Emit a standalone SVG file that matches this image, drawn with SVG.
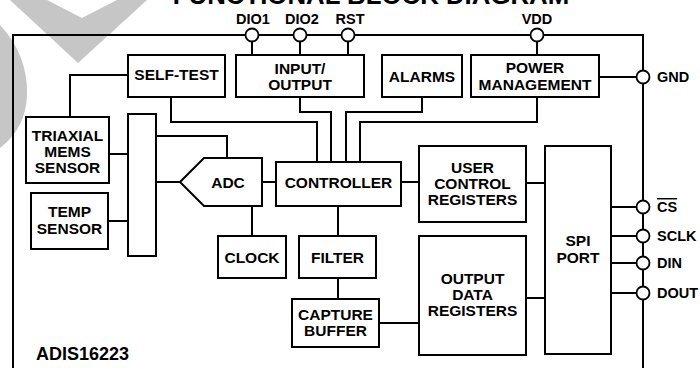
<svg xmlns="http://www.w3.org/2000/svg" width="700" height="368" viewBox="0 0 700 368">
<style>
.b{fill:#fff;stroke:#000;stroke-width:2}
.w{fill:none;stroke:#000;stroke-width:2}
.p{fill:#fff;stroke:#000;stroke-width:1.8}
text{font-family:"Liberation Sans",Arial,sans-serif;font-weight:bold;fill:#000}
.l{font-size:15.5px;text-anchor:middle}
.pin{font-size:14.5px}
.wm{fill:#c6c6c6}
</style>
<g id="watermark">
<polygon class="wm" points="10,0 47,0 82,18 117,0 147,0 78,63"/>
<path class="wm" d="M0,25 Q28,55 27,95 Q26,128 0,148 Z"/>
</g>
<text x="371" y="4" style="font-size:25.8px;text-anchor:middle">FUNCTIONAL BLOCK DIAGRAM</text>
<g id="connectors">
<path class="w" d="M13,368 V35 H643 V368"/>
<path class="w" d="M252,35 V55 M300,35 V55 M348,35 V55 M537,35 V55"/>
<path class="w" d="M599,77 H643"/>
<path class="w" d="M128,75 H70 V117"/>
<path class="w" d="M109,154 H128 M108,221 H128"/>
<path class="w" d="M156,182 H180 M156,136 H227 V158"/>
<path class="w" d="M262,182 H276 M252,206 V236"/>
<path class="w" d="M171,97 V122 H317 V162"/>
<path class="w" d="M300,97 V112 H331 V162"/>
<path class="w" d="M422,97 V112 H346 V162"/>
<path class="w" d="M537,97 V122 H360 V162"/>
<path class="w" d="M401,182 H419 M338,206 V236 M338,278 V299 M379,323 H419"/>
<path class="w" d="M526,183 H545 M526,298 H545"/>
<path class="w" d="M611,207 H643 M611,236 H643 M611,263 H643 M611,293 H643"/>
</g>
<g id="self-test"><rect class="b" x="128" y="55" width="97" height="42"/><text class="l" x="176.5" y="80">SELF-TEST</text></g>
<g id="input-output"><rect class="b" x="236" y="55" width="128" height="42"/><text class="l" x="300" y="74">INPUT/</text><text class="l" x="300" y="90">OUTPUT</text></g>
<g id="alarms"><rect class="b" x="382" y="55" width="80" height="42"/><text class="l" x="422" y="81.5">ALARMS</text></g>
<g id="power-management"><rect class="b" x="471" y="55" width="128" height="42"/><text class="l" x="535" y="73">POWER</text><text class="l" x="535" y="89.5">MANAGEMENT</text></g>
<g id="triaxial-mems-sensor"><rect class="b" x="26" y="117" width="83" height="66"/><text class="l" x="67.5" y="140.7">TRIAXIAL</text><text class="l" x="67.5" y="156.7">MEMS</text><text class="l" x="67.5" y="172.7">SENSOR</text></g>
<g id="temp-sensor"><rect class="b" x="31" y="193" width="77" height="56"/><text class="l" x="69.5" y="217">TEMP</text><text class="l" x="69.5" y="234">SENSOR</text></g>
<g id="mux"><rect class="b" x="128" y="114" width="28" height="142"/></g>
<g id="adc"><polygon class="b" points="180,182 204,158 262,158 262,206 204,206"/><text class="l" x="228" y="188">ADC</text></g>
<g id="controller"><rect class="b" x="276" y="162" width="125" height="44"/><text class="l" x="338.5" y="188.3">CONTROLLER</text></g>
<g id="clock"><rect class="b" x="218" y="236" width="68" height="42"/><text class="l" x="252" y="263">CLOCK</text></g>
<g id="filter"><rect class="b" x="299" y="236" width="77" height="42"/><text class="l" x="337.5" y="263">FILTER</text></g>
<g id="capture-buffer"><rect class="b" x="292" y="299" width="87" height="48"/><text class="l" x="335.5" y="320">CAPTURE</text><text class="l" x="335.5" y="335.7">BUFFER</text></g>
<g id="user-control-registers"><rect class="b" x="419" y="146" width="107" height="76"/><text class="l" x="472.5" y="173.3">USER</text><text class="l" x="472.5" y="189.3">CONTROL</text><text class="l" x="472.5" y="205">REGISTERS</text></g>
<g id="output-data-registers"><rect class="b" x="419" y="236" width="107" height="119"/><text class="l" x="472.5" y="284">OUTPUT</text><text class="l" x="472.5" y="300">DATA</text><text class="l" x="472.5" y="316">REGISTERS</text></g>
<g id="spi-port"><rect class="b" x="545" y="146" width="66" height="208"/><text class="l" x="578" y="246">SPI</text><text class="l" x="578" y="262.5">PORT</text></g>
<g id="pin-dio1"><circle class="p" cx="252" cy="35" r="6.5"/><text class="pin" x="253" y="24" text-anchor="middle">DIO1</text></g>
<g id="pin-dio2"><circle class="p" cx="300" cy="35" r="6.5"/><text class="pin" x="302" y="24" text-anchor="middle">DIO2</text></g>
<g id="pin-rst"><circle class="p" cx="348" cy="35" r="6.5"/><text class="pin" x="350" y="24" text-anchor="middle">RST</text></g>
<g id="pin-vdd"><circle class="p" cx="537" cy="35" r="6.5"/><text class="pin" x="537" y="24" text-anchor="middle">VDD</text></g>
<g id="pin-gnd"><circle class="p" cx="643" cy="77" r="6.5"/><text class="pin" x="657" y="82">GND</text></g>
<g id="pin-cs"><circle class="p" cx="643" cy="207" r="6.5"/><text class="pin" x="657" y="212" text-decoration="overline">CS</text></g>
<g id="pin-sclk"><circle class="p" cx="643" cy="236" r="6.5"/><text class="pin" x="657" y="241">SCLK</text></g>
<g id="pin-din"><circle class="p" cx="643" cy="263" r="6.5"/><text class="pin" x="657" y="268">DIN</text></g>
<g id="pin-dout"><circle class="p" cx="643" cy="293" r="6.5"/><text class="pin" x="657" y="298">DOUT</text></g>
<text x="36" y="360" style="font-size:18px">ADIS16223</text>
</svg>
